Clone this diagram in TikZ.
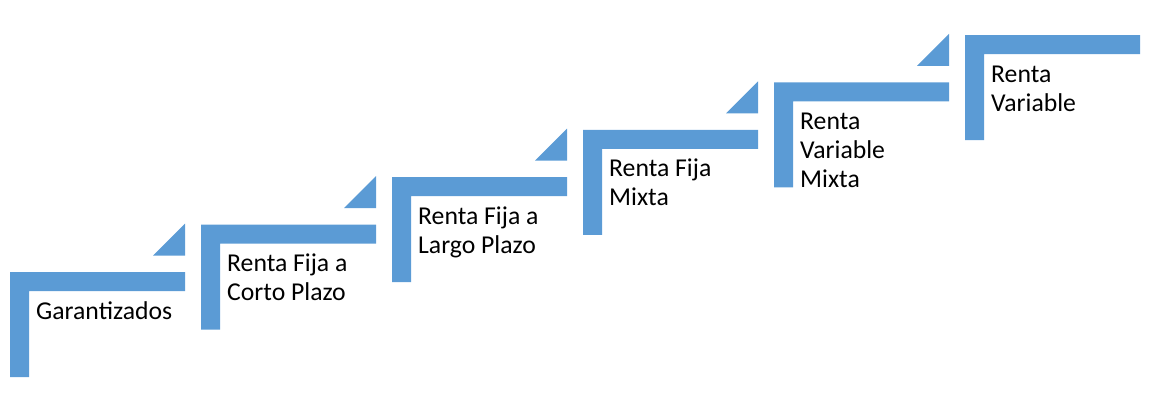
\documentclass[tikz,border=0pt]{standalone}
\usepackage{fontspec}
\setmainfont{Carlito}
\definecolor{stepblue}{HTML}{5B9BD5}
\begin{document}
\begin{tikzpicture}[x=1pt,y=-1pt,
  lbl/.style={anchor=base west, align=left, inner sep=0pt, font=\fontsize{25.7}{29}\selectfont},
  stepfill/.style={fill=stepblue}]
\useasboundingbox (0,0) rectangle (1156,405);
\foreach \i in {0,...,5} {
  \pgfmathsetmacro\X{10+191*\i}
  \pgfmathsetmacro\Y{272-47.4*\i}
  \fill[stepfill] (\X,\Y) -- ++(175,0) -- ++(0,19) -- ++(-156,0) -- ++(0,86) -- ++(-19,0) -- cycle;
}
\foreach \i in {0,...,4} {
  \pgfmathsetmacro\X{10+191*\i}
  \pgfmathsetmacro\Y{272-47.4*\i}
  \fill[stepfill] (\X+175,\Y-16.5) -- ++(0,-32) -- ++(-32,32) -- cycle;
}
% anchor base = baseline of the last line
\node[lbl] (t1) at (36,319) {Garantizados};
\node[lbl] (t2) at (227,300.6) {Renta Fija a\\Corto Plazo};
\node[lbl] (t3) at (418,253.2) {Renta Fija a\\Largo Plazo};
\node[lbl] (t4) at (609,205.8) {Renta Fija\\Mixta};
\node[lbl] (t5) at (800,187.4) {Renta\\Variable\\Mixta};
\node[lbl] (t6) at (991,111) {Renta\\Variable};
\end{tikzpicture}
\end{document}
